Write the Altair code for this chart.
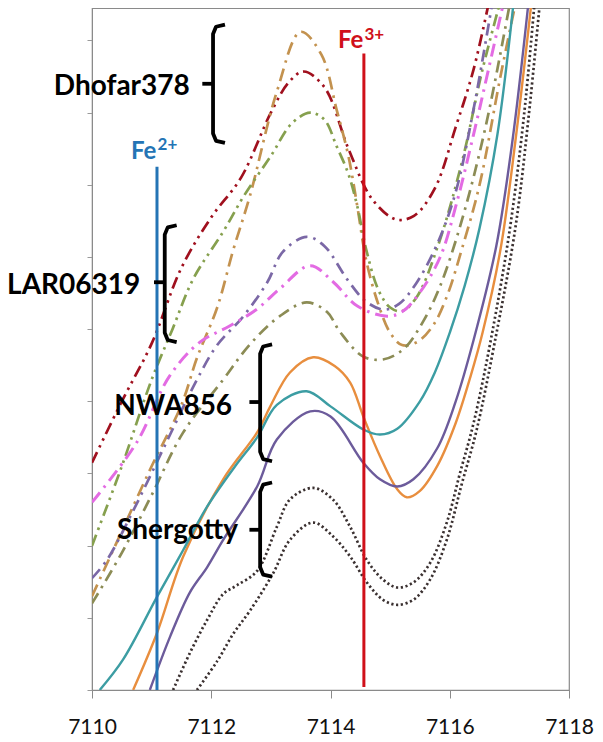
import altair as alt
import pandas as pd

# ---------------- spectra (energy eV, normalised absorbance, offset) ----------------
dh_red_x = [7110, 7110.5, 7111, 7111.5, 7112, 7112.5, 7113, 7113.3, 7113.55, 7113.9, 7114.3, 7114.7, 7115.1, 7115.4, 7115.75, 7116.1, 7116.4, 7116.7]
dh_red_y = [3.15, 4.0, 4.8, 5.85, 6.55, 7.1, 8.0, 8.42, 8.57, 8.35, 7.5, 6.8, 6.52, 6.57, 6.95, 7.8, 8.6, 9.7]

dh_tan_x = [7110, 7110.5, 7111, 7111.5, 7111.76, 7112.1, 7112.37, 7112.65, 7113.1, 7113.5, 7113.85, 7114.1, 7114.3, 7114.45, 7114.6, 7114.8, 7115.0, 7115.2, 7115.45, 7115.72, 7115.95, 7116.2, 7116.5, 7116.85, 7117.15]
dh_tan_y = [1.3, 2.2, 3.1, 3.95, 4.6, 5.3, 6.1, 6.85, 8.29, 9.12, 8.8, 8.05, 7.4, 6.7, 5.95, 5.35, 4.95, 4.78, 4.82, 5.05, 5.45, 6.1, 7.0, 8.5, 9.7]

dh_olive_x = [7110, 7110.5, 7111, 7111.35, 7111.7, 7112.2, 7112.55, 7113.0, 7113.35, 7113.66, 7113.9, 7114.1, 7114.3, 7114.45, 7114.6, 7114.8, 7115.0, 7115.2, 7115.45, 7115.8, 7116.2, 7116.55, 7116.9]
dh_olive_y = [2.0, 3.1, 4.3, 5.0, 5.7, 6.35, 6.85, 7.4, 7.85, 8.0, 7.9, 7.54, 7.15, 6.7, 6.1, 5.55, 5.3, 5.25, 5.45, 6.15, 7.3, 8.6, 9.7]

lar_purple_x = [7110, 7110.25, 7110.7, 7111.2, 7111.76, 7112.1, 7112.54, 7112.94, 7113.2, 7113.6, 7113.9, 7114.28, 7114.6, 7114.9, 7115.15, 7115.45, 7115.8, 7116.1, 7116.4, 7116.75]
lar_purple_y = [1.55, 1.8, 2.5, 3.35, 4.3, 4.78, 5.18, 5.65, 6.07, 6.28, 6.15, 5.69, 5.38, 5.27, 5.35, 5.65, 6.2, 6.9, 8.05, 9.7]

lar_pink_x = [7110, 7110.75, 7111.3, 7111.81, 7112.3, 7112.77, 7113.15, 7113.66, 7114.05, 7114.45, 7114.95, 7115.2, 7115.5, 7115.84, 7116.1, 7116.4, 7116.65, 7116.95]
lar_pink_y = [2.6, 3.43, 4.35, 4.82, 5.04, 5.28, 5.56, 5.88, 5.65, 5.32, 5.18, 5.24, 5.51, 6.0, 6.7, 7.7, 8.6, 9.7]

lar_olive_x = [7110, 7110.5, 7111, 7111.53, 7112.2, 7112.65, 7113.15, 7113.6, 7113.94, 7114.16, 7114.55, 7114.88, 7115.22, 7115.55, 7115.84, 7116.2, 7116.6, 7117.05]
lar_olive_y = [1.2, 1.9, 2.7, 3.57, 4.3, 4.79, 5.18, 5.37, 5.24, 4.96, 4.62, 4.58, 4.72, 5.1, 5.6, 6.5, 7.8, 9.7]

nwa_orange_x = [7110.69, 7111.09, 7111.53, 7112.2, 7112.77, 7112.99, 7113.32, 7113.71, 7114.07, 7114.33, 7114.55, 7114.83, 7115.12, 7115.28, 7115.5, 7115.8, 7116.1, 7116.35, 7116.55, 7116.85, 7117.1, 7117.38]
nwa_orange_y = [0.0, 0.79, 1.85, 2.92, 3.57, 3.93, 4.4, 4.61, 4.49, 4.26, 3.79, 3.24, 2.78, 2.67, 2.76, 3.12, 3.7, 4.35, 4.95, 6.1, 7.6, 9.6]

nwa_teal_x = [7110.13, 7110.52, 7111.09, 7111.53, 7111.93, 7112.4, 7112.77, 7113.1, 7113.6, 7114.0, 7114.55, 7114.83, 7115.12, 7115.5, 7115.75, 7116.0, 7116.25, 7116.5, 7116.8, 7117.08]
nwa_teal_y = [0.0, 0.42, 1.29, 1.94, 2.54, 3.1, 3.5, 3.95, 4.14, 3.93, 3.61, 3.54, 3.62, 4.0, 4.4, 4.95, 5.6, 6.4, 7.7, 9.6]

nwa_purple_x = [7110.97, 7111.31, 7111.64, 7111.93, 7112.2, 7112.77, 7113.1, 7113.66, 7114.0, 7114.55, 7114.83, 7115.12, 7115.39, 7115.79, 7116.1, 7116.4, 7116.78, 7117.05, 7117.33]
nwa_purple_y = [0.0, 0.74, 1.35, 1.7, 2.08, 2.82, 3.47, 3.86, 3.79, 3.15, 2.92, 2.82, 2.92, 3.35, 4.0, 4.85, 6.15, 7.6, 9.6]

sh_upper_x = [7111.36, 7111.64, 7111.93, 7112.2, 7112.43, 7112.77, 7113.1, 7113.32, 7113.71, 7114.04, 7114.33, 7114.61, 7114.88, 7115.12, 7115.39, 7115.67, 7115.95, 7116.17, 7116.4, 7116.7, 7117.01, 7117.25, 7117.43]
sh_upper_y = [0.0, 0.51, 0.97, 1.33, 1.45, 1.65, 2.26, 2.64, 2.8, 2.64, 2.26, 1.8, 1.53, 1.42, 1.49, 1.76, 2.32, 3.0, 3.7, 4.9, 6.4, 8.0, 9.6]

sh_lower_x = [7111.76, 7112.1, 7112.37, 7112.65, 7113.04, 7113.32, 7113.71, 7114.04, 7114.33, 7114.61, 7114.88, 7115.12, 7115.39, 7115.67, 7115.95, 7116.2, 7116.45, 7116.75, 7117.1, 7117.33, 7117.52]
sh_lower_y = [0.0, 0.4, 0.78, 1.1, 1.62, 2.08, 2.32, 2.13, 1.85, 1.49, 1.25, 1.18, 1.25, 1.53, 2.08, 2.85, 3.6, 4.8, 6.4, 8.0, 9.6]

series = [
    # name, x, y, color, dash, width
    ("Dhofar378 a", dh_red_x, dh_red_y, "#A0101E", [12, 5, 2.5, 5, 2.5, 5], 2.7),
    ("Dhofar378 b", dh_tan_x, dh_tan_y, "#C3924F", [13, 6, 2.5, 6], 2.7),
    ("Dhofar378 c", dh_olive_x, dh_olive_y, "#86A04E", [12, 5, 2.5, 5, 2.5, 5], 2.7),
    ("LAR06319 a", lar_purple_x, lar_purple_y, "#7B68A6", [12, 6, 2.5, 6], 2.7),
    ("LAR06319 b", lar_pink_x, lar_pink_y, "#E36BE3", [13, 6, 2.5, 6], 3.0),
    ("LAR06319 c", lar_olive_x, lar_olive_y, "#8C8C55", [12, 6, 2.5, 6], 2.7),
    ("NWA856 a", nwa_orange_x, nwa_orange_y, "#E88E3E", None, 2.4),
    ("NWA856 b", nwa_teal_x, nwa_teal_y, "#3C9DA3", None, 2.4),
    ("NWA856 c", nwa_purple_x, nwa_purple_y, "#6C5B9B", None, 2.4),
    ("Shergotty a", sh_upper_x, sh_upper_y, "#3A3030", [2.2, 2.6], 2.7),
    ("Shergotty b", sh_lower_x, sh_lower_y, "#3A3030", [2.2, 2.6], 2.7),
]

# ---------------- annotations ----------------
group_names = ["Dhofar378", "LAR06319", "NWA856", "Shergotty"]
label_x = [7111.64, 7110.81, 7112.35, 7112.45]
label_y = [8.36, 5.6, 3.92, 2.2]
bracket_x = [7112.03, 7111.22, 7112.82, 7112.82]
bracket_top = [9.22, 6.44, 4.79, 2.875]
bracket_bottom = [7.58, 4.82, 3.17, 1.57]
bracket_mid = [8.40, 5.65, 3.99, 2.22]

ion_names = ["Fe", "Fe"]
ion_sups = ["2+", "3+"]
ion_x = [7111.09, 7114.56]
ion_line_top = [7.25, 8.82]
ion_line_bottom = [0.0, 0.04]
ion_text_y = [7.36, 8.89]
ion_colors = ["#2474B5", "#D0101A"]

x_ticks = [7110, 7112, 7114, 7116, 7118]
y_ticks = [0, 1, 2, 3, 4, 5, 6, 7, 8, 9]

FONT = "Lato"
xscale = alt.Scale(domain=[7110, 7118], nice=False, zero=False)
yscale = alt.Scale(domain=[0, 9.45], nice=False, zero=False)

x_axis = alt.Axis(values=x_ticks, format="d", title=None, grid=False,
                  labelFontSize=21, labelFont=FONT, labelColor="#111",
                  tickSize=8, tickColor="#8a8a8a", domainColor="#8a8a8a",
                  labelPadding=18, labelFlush=False)
y_axis = alt.Axis(values=y_ticks, labels=False, title=None, grid=False,
                  tickSize=5, tickColor="#9a9a9a", domainColor="#8a8a8a")

X = lambda f="x:Q": alt.X(f, scale=xscale, axis=x_axis)
Y = lambda f="y:Q": alt.Y(f, scale=yscale, axis=y_axis)

layers = []
for name, xs, ys, color, dash, w in series:
    df = pd.DataFrame({"x": xs, "y": ys})
    kw = dict(color=color, strokeWidth=w, interpolate="catmull-rom", clip=True)
    if dash:
        kw["strokeDash"] = dash
    layers.append(alt.Chart(df).mark_line(**kw).encode(x=X(), y=Y()))

# ion reference lines and labels
for i in range(len(ion_x)):
    ldf = pd.DataFrame({"x": [ion_x[i]], "y": [ion_line_bottom[i]], "y2": [ion_line_top[i]]})
    layers.append(alt.Chart(ldf).mark_rule(color=ion_colors[i], strokeWidth=3).encode(
        x=X(), y=Y(), y2="y2:Q"))
    tdf = pd.DataFrame({"x": [ion_x[i] - 0.01], "y": [ion_text_y[i]], "t": [ion_names[i]]})
    layers.append(alt.Chart(tdf).mark_text(align="right", baseline="alphabetic", font=FONT,
                                          fontWeight="bold", fontSize=24, color=ion_colors[i]).encode(
        x=X(), y=Y(), text="t:N"))
    sdf = pd.DataFrame({"x": [ion_x[i] + 0.01], "y": [ion_text_y[i] + 0.12], "t": [ion_sups[i]]})
    layers.append(alt.Chart(sdf).mark_text(align="left", baseline="alphabetic", font=FONT,
                                          fontWeight="bold", fontSize=17, color=ion_colors[i]).encode(
        x=X(), y=Y(), text="t:N"))

# brackets
rows = []
ticks = []
for g, bx, bt, bb, bm in zip(group_names, bracket_x, bracket_top, bracket_bottom, bracket_mid):
    pts = [(bx + 0.2, bt), (bx + 0.05, bt - 0.03), (bx, bt - 0.13),
           (bx, bb + 0.13), (bx + 0.05, bb + 0.03), (bx + 0.2, bb)]
    for k, (px, py) in enumerate(pts):
        rows.append({"g": g, "o": k, "x": px, "y": py})
    ticks.append({"g": g, "x": bx - 0.18, "x2": bx, "y": bm})
bdf = pd.DataFrame(rows)
layers.append(alt.Chart(bdf).mark_line(color="black", strokeWidth=3.8, strokeJoin="round").encode(
    x=X(), y=Y(), detail="g:N", order="o:Q"))
tkdf = pd.DataFrame(ticks)
layers.append(alt.Chart(tkdf).mark_rule(color="black", strokeWidth=3.8).encode(
    x=X(), x2="x2:Q", y=Y()))

# group labels
ldf = pd.DataFrame({"x": label_x, "y": label_y, "t": group_names})
layers.append(alt.Chart(ldf).mark_text(align="right", baseline="middle", font=FONT,
                                      fontWeight="bold", fontSize=28, color="#000").encode(
    x=X(), y=Y(), text="t:N"))

chart = alt.layer(*layers).properties(
    width=477, height=682,
    padding={"left": 84, "top": 0, "right": 26, "bottom": 52},
    autosize=alt.AutoSizeParams(type="none"),
    background="white",
).configure_view(stroke="#8a8a8a", strokeWidth=1.2)

chart.save("out.html", embed_options={"renderer": "svg", "actions": False})
